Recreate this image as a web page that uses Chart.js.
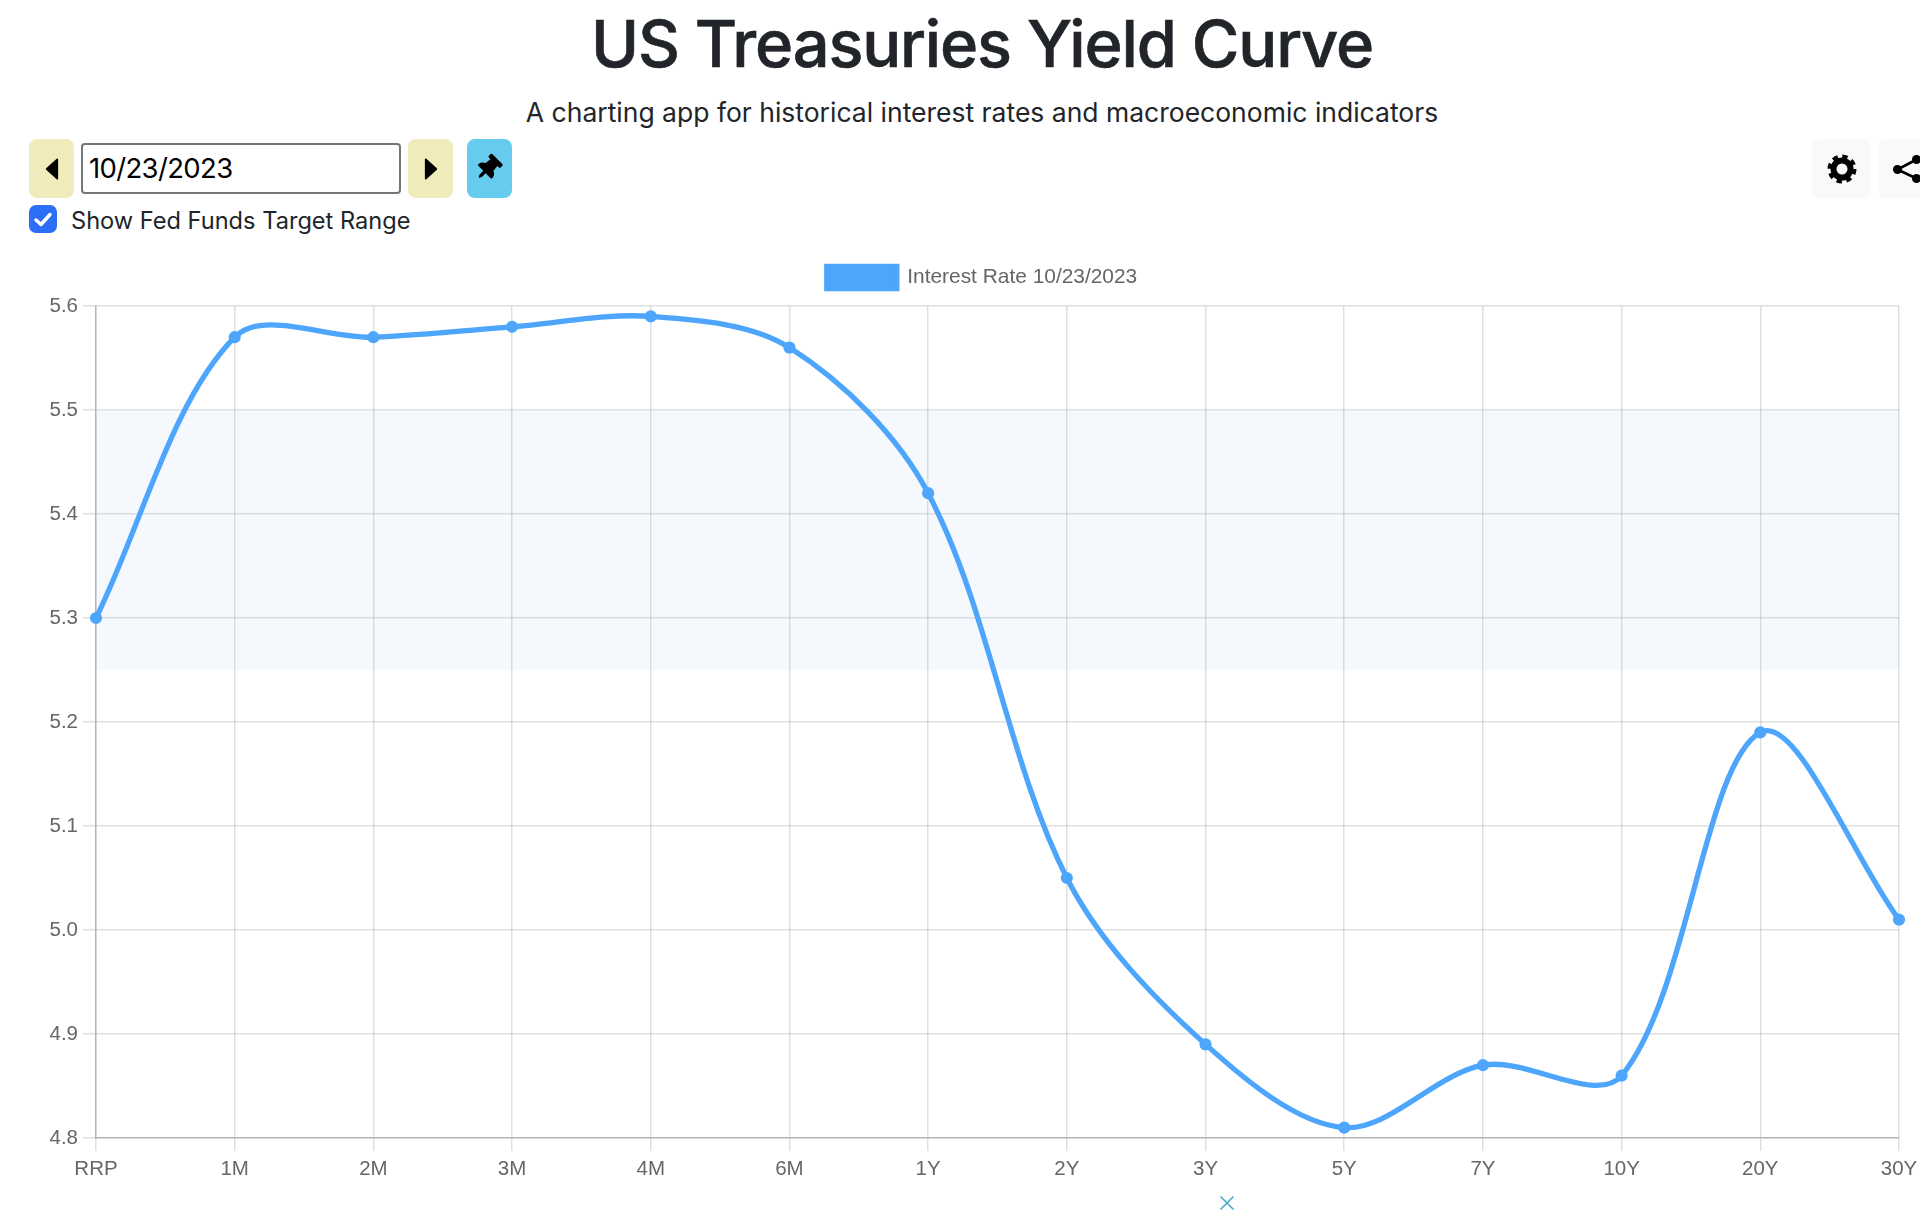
<!DOCTYPE html>
<html>
<head>
<meta charset="utf-8">
<title>US Treasuries Yield Curve</title>
<script src="https://cdn.jsdelivr.net/npm/chart.js@4/dist/chart.umd.min.js"></script>
<style>
html, body { margin: 0; padding: 0; background: #fff; overflow: hidden; width: 1920px; height: 1223px; }
#page { position: absolute; left: 0; top: 0; width: 1964px; height: 1223px; font-family: Inter, sans-serif; color: #212529; }
#page > * { position: absolute; box-sizing: border-box; }
h1 { margin: 0; left: 0; width: 100%; top: 4px; text-align: center; font-size: 65px; line-height: 80px; font-weight: 500; letter-spacing: -1.2px; -webkit-text-stroke: 0.6px #212529; }
#sub { left: 0; width: 100%; top: 94px; text-align: center; font-size: 26.5px; line-height: 36px; }
.btn { top: 139px; width: 45px; height: 59px; border-radius: 8px; display: flex; align-items: center; justify-content: center; }
.yellow { background: #efebbb; }
#pin { background: #67cbf0; }
.light { background: #f8f9fa; width: 59px; }
#date { left: 81px; top: 143px; width: 320px; height: 51px; border: 2px solid #767676; border-radius: 4px; padding-left: 6px; font-size: 27.5px; letter-spacing: -0.65px; line-height: 47px; color: #000; }
#check { left: 29px; top: 205px; width: 28px; height: 28px; border-radius: 7px; background: #2c6ff6; display: flex; align-items: center; justify-content: center; }
#checkLabel { left: 71px; top: 205px; font-size: 23.6px; line-height: 32px; white-space: nowrap; }
#wrap { left: 0; top: 245px; width: 1964px; height: 943px; }
#closeX { left: 1219px; top: 1195px; }
</style>
</head>
<body>
<div id="page">
  <h1>US Treasuries Yield Curve</h1>
  <div id="sub">A charting app for historical interest rates and macroeconomic indicators</div>

  <div class="btn yellow" style="left:29px"><svg width="14" height="22" viewBox="0 0 16 24"><path d="M14 1 L2 12 L14 23 Z" fill="#000" stroke="#000" stroke-width="2" stroke-linejoin="round"/></svg></div>
  <div id="date">10/23/2023</div>
  <div class="btn yellow" style="left:408px"><svg width="14" height="22" viewBox="0 0 16 24"><path d="M2 1 L14 12 L2 23 Z" fill="#000" stroke="#000" stroke-width="2" stroke-linejoin="round"/></svg></div>
  <div class="btn" id="pin" style="left:467px"><svg width="20" height="27" viewBox="0 0 384 512" style="transform:translate(-2px,0) rotate(45deg)"><path fill="#000" d="M298 214L286 96H328c13 0 24-11 24-24V24c0-13-11-24-24-24H56C43 0 32 11 32 24v48c0 13 11 24 24 24h42L86 214C37 237 0 277 0 328c0 13 11 24 24 24h136v104l32 56 32-56V352h136c13 0 24-11 24-24 0-51-38-91-86-114z"/></svg></div>

  <div class="btn light" style="left:1812px"><svg width="30" height="30" viewBox="0 0 30 30"><circle cx="15" cy="15" r="8.5" fill="none" stroke="#000" stroke-width="6"/><circle cx="15" cy="15" r="12.5" fill="none" stroke="#000" stroke-width="4" stroke-dasharray="5.3 4.5"/></svg></div>
  <div class="btn light" style="left:1878px"><svg width="50" height="36" viewBox="0 0 50 36"><path d="M14.5 18.5 L33.5 8.5 M14.5 18.5 L33.5 27.5" stroke="#000" stroke-width="2.6" fill="none"/><circle cx="14.5" cy="18.5" r="4.5"/><circle cx="33.5" cy="8.5" r="4.5"/><circle cx="33.5" cy="27.5" r="4.5"/></svg></div>

  <div id="check"><svg width="18" height="15" viewBox="0 0 18 15"><path d="M2 8 L7 12.5 L16 2.5" fill="none" stroke="#fff" stroke-width="3.4" stroke-linecap="round" stroke-linejoin="round"/></svg></div>
  <div id="checkLabel">Show Fed Funds Target Range</div>

  <div id="wrap"><canvas id="yieldChart"></canvas></div>
  <svg id="closeX" width="16" height="16" viewBox="0 0 16 16"><path d="M1.5 1.5 L14.5 14.5 M14.5 1.5 L1.5 14.5" stroke="#4fa9d2" stroke-width="1.7"/></svg>
</div>

<script>
const maturities = ['RRP', '1M', '2M', '3M', '4M', '6M', '1Y', '2Y', '3Y', '5Y', '7Y', '10Y', '20Y', '30Y'];
const rates = [5.30, 5.57, 5.57, 5.58, 5.59, 5.56, 5.42, 5.05, 4.89, 4.81, 4.87, 4.86, 5.19, 5.01];
const fedUpper = [5.5, 5.5, 5.5, 5.5, 5.5, 5.5, 5.5, 5.5, 5.5, 5.5, 5.5, 5.5, 5.5, 5.5];
const fedLower = [5.25, 5.25, 5.25, 5.25, 5.25, 5.25, 5.25, 5.25, 5.25, 5.25, 5.25, 5.25, 5.25, 5.25];
const legendLabel = 'Interest Rate 10/23/2023';

const lineColor = '#4da6fb';
const tickFont = { family: '"Liberation Sans", Arial, sans-serif', size: 20.5 };
const legendFont = { family: '"Liberation Sans", Arial, sans-serif', size: 20.9 };

const data = {
  labels: maturities,
  datasets: [
    {
      label: legendLabel,
      data: rates,
      borderColor: lineColor,
      backgroundColor: lineColor,
      borderWidth: 5.3,
      tension: 0.33,
      pointRadius: 5.3,
      pointBorderWidth: 1.6,
      fill: false
    },
    {
      label: 'fedUpper',
      data: fedUpper,
      borderWidth: 0,
      pointRadius: 0,
      backgroundColor: 'rgba(60,120,220,0.05)',
      fill: '+1'
    },
    {
      label: 'fedLower',
      data: fedLower,
      borderWidth: 0,
      pointRadius: 0,
      fill: false
    }
  ]
};

// a bit more room under the legend
const legendGap = {
  id: 'legendGap',
  beforeInit: function(chart) {
    const fit = chart.legend.fit;
    chart.legend.fit = function() {
      fit.bind(this)();
      this.height += 7.5;
    };
  }
};

const config = {
  type: 'line',
  data: data,
  plugins: [legendGap],
  options: {
    responsive: false,
    animation: false,
    devicePixelRatio: 1,
    plugins: {
      tooltip: { enabled: false },
      legend: {
        position: 'top',
        labels: {
          color: '#666',
          font: legendFont,
          boxWidth: 70,
          boxHeight: 22,
          padding: 21.5,
          filter: function(item) { return item.text === legendLabel; }
        }
      }
    },
    scales: {
      x: {
        afterFit: function(scale) { scale.height = 50; },
        grid: { color: 'rgba(0,0,0,0.12)', lineWidth: 1.5, tickLength: 13 },
        border: { color: 'rgba(0,0,0,0.2)', width: 1.5 },
        ticks: { color: '#666', font: tickFont, padding: 6, autoSkip: false, maxRotation: 0 }
      },
      y: {
        min: 4.8,
        max: 5.6,
        afterFit: function(scale) { scale.width = 96; },
        grid: { color: 'rgba(0,0,0,0.12)', lineWidth: 1.5, tickLength: 13 },
        border: { color: 'rgba(0,0,0,0.2)', width: 1.5 },
        ticks: {
          color: '#666',
          font: tickFont,
          padding: 5,
          stepSize: 0.1,
          callback: function(v) { return v.toFixed(1); }
        }
      },
      // empty right axis, keeps the legend centred on the whole page width
      spacer: {
        position: 'right',
        afterFit: function(scale) { scale.width = 65; },
        grid: { display: false },
        border: { display: false },
        ticks: { display: false }
      }
    }
  }
};

const cv = document.getElementById('yieldChart');
cv.width = 1964;
cv.height = 943;
cv.style.display = 'block';
let ctx = cv.getContext('2d');
window.chart = new Chart(ctx, config);
</script>
</body>
</html>
